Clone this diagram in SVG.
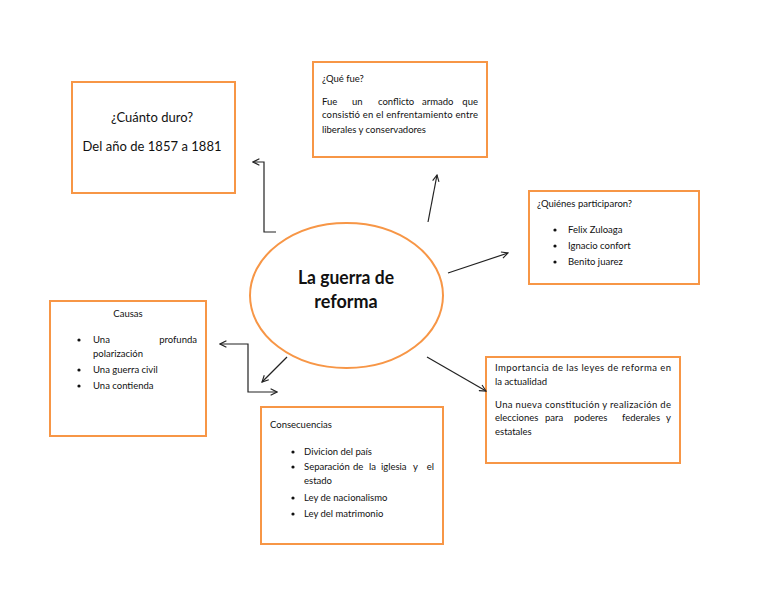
<svg xmlns="http://www.w3.org/2000/svg" width="768" height="594" viewBox="0 0 768 594">
<defs>
<style>
.box{fill:#fff;stroke:#F79646;stroke-width:2}
.t{font-family:Lato,"Open Sans","Liberation Sans",sans-serif;font-size:9.5px;fill:#111}
.tb{font-family:Lato,"Open Sans","Liberation Sans",sans-serif;font-size:13px;fill:#111}
.title{font-family:Lato,"Open Sans","Liberation Sans",sans-serif;font-size:18px;font-weight:bold;fill:#111}
.c{fill:none;stroke:#222;stroke-width:1.2}
.dot{fill:#111}
</style>
<marker id="ah" viewBox="0 0 10 10" refX="9" refY="5" markerWidth="8" markerHeight="8" markerUnits="userSpaceOnUse" orient="auto-start-reverse">
<path d="M1,1 L9,5 L1,9" fill="none" stroke="#222" stroke-width="1.4"/>
</marker>
</defs>
<rect width="768" height="594" fill="#fff"/>

<g id="center">
<ellipse cx="346.5" cy="295.5" rx="96.5" ry="72.5" class="box"/>
<text class="title" x="346" y="284" text-anchor="middle" textLength="96" lengthAdjust="spacingAndGlyphs">La guerra de</text>
<text class="title" x="346" y="308" text-anchor="middle">reforma</text>
</g>

<g id="duracion">
<rect x="72" y="82" width="163" height="111" class="box"/>
<text class="tb" x="152" y="122" text-anchor="middle">¿Cuánto duro?</text>
<text class="tb" x="152" y="151" text-anchor="middle" textLength="139">Del año de 1857 a 1881</text>
</g>

<g id="que-fue">
<rect x="313" y="62" width="174" height="95" class="box"/>
<text class="t" x="322" y="82">¿Qué fue?</text>
<text class="t" y="105"><tspan x="322">Fue</tspan><tspan x="352">un</tspan><tspan x="378">conflicto</tspan><tspan x="422">armado</tspan><tspan x="478" text-anchor="end">que</tspan></text>
<text class="t" x="322" y="118" textLength="156">consistió en el enfrentamiento entre</text>
<text class="t" x="322" y="133">liberales y conservadores</text>
</g>

<g id="participantes">
<rect x="529" y="191" width="170" height="93" class="box"/>
<text class="t" x="537" y="207">¿Quiénes participaron?</text>
<circle class="dot" cx="555" cy="230" r="1.6"/>
<text class="t" x="568" y="233">Felix Zuloaga</text>
<circle class="dot" cx="555" cy="246" r="1.6"/>
<text class="t" x="568" y="249">Ignacio confort</text>
<circle class="dot" cx="555" cy="262" r="1.6"/>
<text class="t" x="568" y="265">Benito juarez</text>
</g>

<g id="causas">
<rect x="50" y="301" width="156" height="135" class="box"/>
<text class="t" x="128" y="317" text-anchor="middle">Causas</text>
<circle class="dot" cx="79" cy="340" r="1.6"/>
<text class="t" x="93" y="343">Una</text>
<text class="t" x="197" y="343" text-anchor="end">profunda</text>
<text class="t" x="93" y="357">polarización</text>
<circle class="dot" cx="79" cy="370" r="1.6"/>
<text class="t" x="93" y="373">Una guerra civil</text>
<circle class="dot" cx="79" cy="386" r="1.6"/>
<text class="t" x="93" y="389">Una contienda</text>
</g>

<g id="consecuencias">
<rect x="261" y="407" width="182" height="137" class="box"/>
<text class="t" x="270" y="428">Consecuencias</text>
<circle class="dot" cx="293" cy="452" r="1.6"/>
<text class="t" x="304" y="455">Divicion del país</text>
<circle class="dot" cx="293" cy="467" r="1.6"/>
<text class="t" y="470"><tspan x="304">Separación</tspan><tspan x="353">de</tspan><tspan x="369">la</tspan><tspan x="381">iglesia</tspan><tspan x="413">y</tspan><tspan x="434" text-anchor="end">el</tspan></text>
<text class="t" x="304" y="484">estado</text>
<circle class="dot" cx="293" cy="498" r="1.6"/>
<text class="t" x="304" y="501">Ley de nacionalismo</text>
<circle class="dot" cx="293" cy="514" r="1.6"/>
<text class="t" x="304" y="517">Ley del matrimonio</text>
</g>

<g id="importancia">
<rect x="486" y="357" width="194" height="106" class="box"/>
<text class="t" x="495" y="371" textLength="176">Importancia de las leyes de reforma en</text>
<text class="t" x="495" y="385">la actualidad</text>
<text class="t" x="495" y="408" textLength="176">Una nueva constitución y realización de</text>
<text class="t" y="421"><tspan x="495">elecciones</tspan><tspan x="545">para</tspan><tspan x="574">poderes</tspan><tspan x="622">federales</tspan><tspan x="671" text-anchor="end">y</tspan></text>
<text class="t" x="495" y="435">estatales</text>
</g>

<g id="connectors">
<polyline class="c" points="276,232 264,232 264,162 253,162" marker-end="url(#ah)"/>
<line class="c" x1="428" y1="222" x2="437" y2="175" marker-end="url(#ah)"/>
<line class="c" x1="448" y1="273" x2="508" y2="253" marker-end="url(#ah)"/>
<line class="c" x1="427" y1="357" x2="486" y2="391" marker-end="url(#ah)"/>
<line class="c" x1="287" y1="357" x2="262" y2="382" marker-end="url(#ah)"/>
<polyline class="c" points="220,344 248,344 248,392 277,392" marker-start="url(#ah)" marker-end="url(#ah)"/>
</g>
</svg>
